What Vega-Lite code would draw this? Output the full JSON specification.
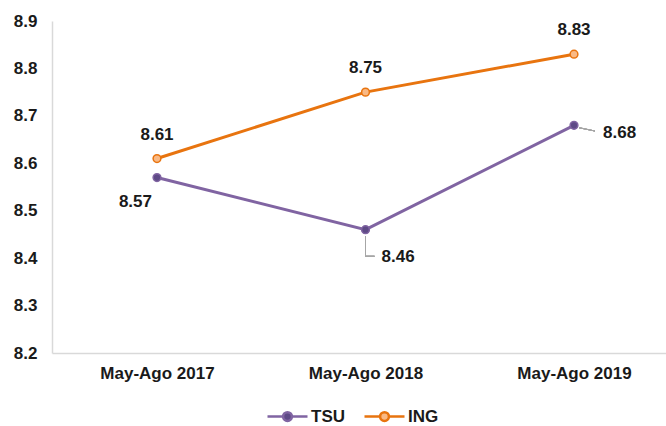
{
  "$schema": "https://vega.github.io/schema/vega-lite/v6.json",
  "autosize": "none",
  "width": 614,
  "height": 332,
  "padding": {"left": 52, "top": 21, "right": 0, "bottom": 73},
  "background": "white",
  "config": {
    "view": {"stroke": null},
    "font": "Liberation Sans",
    "axis": {"labelFont": "Liberation Sans", "labelFontWeight": "bold", "labelFontSize": 17, "labelColor": "#1a1a1a", "ticks": false, "grid": false, "domainColor": "#D9D9D9", "domainWidth": 1.5, "title": null}
  },
  "data": {
    "values": [
      {"period": "May-Ago 2017", "series": "TSU", "value": 8.57},
      {"period": "May-Ago 2018", "series": "TSU", "value": 8.46},
      {"period": "May-Ago 2019", "series": "TSU", "value": 8.68},
      {"period": "May-Ago 2017", "series": "ING", "value": 8.61},
      {"period": "May-Ago 2018", "series": "ING", "value": 8.75},
      {"period": "May-Ago 2019", "series": "ING", "value": 8.83}
    ]
  },
  "encoding": {
    "x": {"field": "period", "type": "nominal", "sort": null, "scale": {"type": "point", "padding": 0.4724, "align": 0.533}, "axis": {"labelAngle": 0, "labelPadding": 12}},
    "y": {"field": "value", "type": "quantitative", "scale": {"domain": [8.2, 8.9], "nice": false, "zero": false}, "axis": {"values": [8.2, 8.3, 8.4, 8.5, 8.6, 8.7, 8.8, 8.9], "format": ".1f", "labelPadding": 15}}
  },
  "layer": [
    {
      "mark": {"type": "line", "strokeWidth": 3},
      "encoding": {
        "stroke": {"field": "series", "type": "nominal", "scale": {"domain": ["TSU", "ING"], "range": ["#8064A2", "#E8740F"]},
          "legend": {"orient": "none", "legendX": 214, "legendY": 374, "direction": "horizontal", "title": null, "labelFont": "Liberation Sans", "labelFontWeight": "bold", "labelFontSize": 17, "labelColor": "#1a1a1a", "symbolType": "M-1,0H-0.22M0.22,0H1M-0.22,0A0.22,0.22 0 1,0 0.22,0A0.22,0.22 0 1,0 -0.22,0Z", "symbolSize": 1600, "symbolStrokeWidth": 2.5, "labelOffset": 2, "columnPadding": 14}}
      }
    },
    {
      "mark": {"type": "point", "shape": "circle", "size": 60, "strokeWidth": 1.5, "opacity": 1},
      "encoding": {
        "stroke": {"field": "series", "type": "nominal", "scale": {"domain": ["TSU", "ING"], "range": ["#8064A2", "#E8740F"]}},
        "fill": {"field": "series", "type": "nominal", "scale": {"domain": ["TSU", "ING"], "range": ["#5E4A86", "#F9B985"]},
          "legend": {"orient": "none", "legendX": 214, "legendY": 374, "direction": "horizontal", "title": null, "labelFont": "Liberation Sans", "labelFontWeight": "bold", "labelFontSize": 17, "labelColor": "#1a1a1a", "symbolType": "M-1,0H-0.22M0.22,0H1M-0.22,0A0.22,0.22 0 1,0 0.22,0A0.22,0.22 0 1,0 -0.22,0Z", "symbolSize": 1600, "symbolStrokeWidth": 2.5, "labelOffset": 2, "columnPadding": 14}}
      }
    },
    {
      "mark": {"type": "rule", "color": "#A6A6A6", "strokeWidth": 1},
      "encoding": {"x": {"datum": "May-Ago 2018"}, "y": {"datum": 8.446}, "y2": {"datum": 8.404}}
    },
    {
      "mark": {"type": "rule", "color": "#A6A6A6", "strokeWidth": 1, "x2Offset": 9},
      "encoding": {"x": {"datum": "May-Ago 2018"}, "x2": {"datum": "May-Ago 2018"}, "y": {"datum": 8.404}}
    },
    {
      "mark": {"type": "rule", "color": "#A6A6A6", "strokeWidth": 1, "xOffset": 5, "x2Offset": 21},
      "encoding": {"x": {"datum": "May-Ago 2019"}, "x2": {"datum": "May-Ago 2019"}, "y": {"datum": 8.675}, "y2": {"datum": 8.668}}
    },
    {
      "transform": [{"filter": "datum.series === 'ING'"}],
      "mark": {"type": "text", "dy": -24, "align": "center", "baseline": "middle", "fontSize": 17, "fontWeight": "bold", "font": "Liberation Sans", "color": "#1a1a1a"},
      "encoding": {"text": {"field": "value", "type": "quantitative", "format": ".2f"}}
    },
    {
      "transform": [{"filter": "datum.series === 'TSU' && datum.period === 'May-Ago 2017'"}],
      "mark": {"type": "text", "dx": -5, "dy": 24, "align": "right", "baseline": "middle", "fontSize": 17, "fontWeight": "bold", "font": "Liberation Sans", "color": "#1a1a1a"},
      "encoding": {"text": {"field": "value", "type": "quantitative", "format": ".2f"}}
    },
    {
      "transform": [{"filter": "datum.series === 'TSU' && datum.period === 'May-Ago 2018'"}],
      "mark": {"type": "text", "dx": 16, "dy": 27, "align": "left", "baseline": "middle", "fontSize": 17, "fontWeight": "bold", "font": "Liberation Sans", "color": "#1a1a1a"},
      "encoding": {"text": {"field": "value", "type": "quantitative", "format": ".2f"}}
    },
    {
      "transform": [{"filter": "datum.series === 'TSU' && datum.period === 'May-Ago 2019'"}],
      "mark": {"type": "text", "dx": 29, "dy": 8, "align": "left", "baseline": "middle", "fontSize": 17, "fontWeight": "bold", "font": "Liberation Sans", "color": "#1a1a1a"},
      "encoding": {"text": {"field": "value", "type": "quantitative", "format": ".2f"}}
    }
  ]
}
